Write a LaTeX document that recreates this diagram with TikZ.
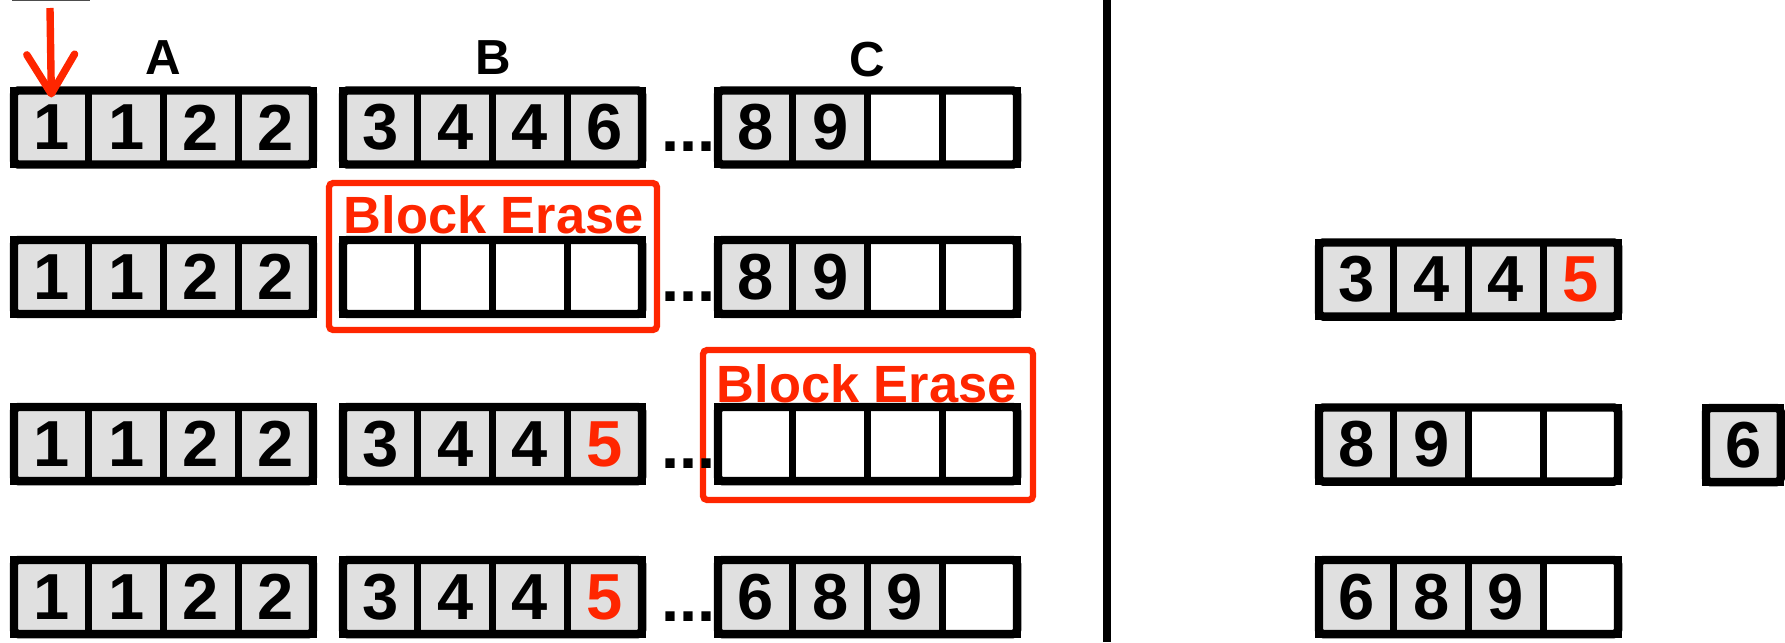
\documentclass[tikz,border=0pt]{standalone}
\usepackage{fontspec}
\setmainfont{Liberation Sans}
\usetikzlibrary{arrows.meta}
\definecolor{eras}{RGB}{255,38,0}
\definecolor{cellgray}{RGB}{224,224,224}
\newcommand\digitfont{\fontsize{18.5}{20}\selectfont\bfseries}
\newcommand\lblfont{\fontsize{14}{16}\selectfont\bfseries}
\newcommand\erasefont{\fontsize{14.9}{16}\selectfont\bfseries}
% #1 name, #2 left (stroke centre), #3 centre y, #4 cell list, #5 number of cells
\newcommand\memblock[5]{%
  \foreach \cv/\cf [count=\ci] in {#4}{%
    \node[cellbox, fill=\cf] (#1-\ci) at ({#2+\ci*74.75-37.375}, #3) {\cv};
  }%
  \draw[outerbox] (#1-1.north west) rectangle (#1-#5.south east);
}
\begin{document}
\begin{tikzpicture}[x=0.01cm,y=-0.01cm,
  cellbox/.style={draw=black, line width=2pt, minimum width=0.7475cm, minimum height=0.74cm, inner sep=0pt, outer sep=0pt, font=\digitfont},
  outerbox/.style={draw=black, line width=2.4pt, rounded corners=1.2pt},
  erasebox/.style={draw=eras, line width=1.8pt, rounded corners=1.2pt},
  erasetext/.style={text=eras, font=\erasefont, anchor=base west, inner sep=0pt},
  lbl/.style={font=\lblfont, inner sep=0pt},
  dotstext/.style={font=\digitfont, anchor=base west, inner sep=0pt},
  arrowred/.style={draw=eras, line width=2.1pt, -{Straight Barb[length=7pt,width=8.5pt,round,scale=1.6]}}]
\useasboundingbox (0,0) rectangle (1785,642);

% remnant line at top
\draw[gray!60!black, line width=0.5pt] (12,0.6) -- (90,0.6);

% labels
\node[lbl] (la) at (163,58) {A};
\node[lbl] (lb) at (493,58) {B};
\node[lbl] (lc) at (867,60) {C};

% erase boxes
\draw[erasebox] (329,183) rectangle (657,330);
\draw[erasebox] (703,350) rectangle (1033,500);

% row 1
\memblock{r1a}{14}{127.5}{1/cellgray,1/cellgray,2/cellgray,2/cellgray}{4}
\memblock{r1b}{343}{127.5}{3/cellgray,4/cellgray,4/cellgray,6/cellgray}{4}
\memblock{r1c}{718}{127.5}{8/cellgray,9/cellgray,/white,/white}{4}
\node[dotstext] (d1) at (661,151.5) {...};

% row 2
\memblock{r2a}{14}{277}{1/cellgray,1/cellgray,2/cellgray,2/cellgray}{4}
\memblock{r2b}{343}{277}{/white,/white,/white,/white}{4}
\memblock{r2c}{718}{277}{8/cellgray,9/cellgray,/white,/white}{4}
\node[dotstext] (d2) at (661,301) {...};

% row 3
\memblock{r3a}{14}{444}{1/cellgray,1/cellgray,2/cellgray,2/cellgray}{4}
\memblock{r3b}{343}{444}{3/cellgray,4/cellgray,4/cellgray,\textcolor{eras}{5}/cellgray}{4}
\memblock{r3c}{718}{444}{/white,/white,/white,/white}{4}
\node[dotstext] (d3) at (661,468) {...};

% row 4
\memblock{r4a}{14}{597}{1/cellgray,1/cellgray,2/cellgray,2/cellgray}{4}
\memblock{r4b}{343}{597}{3/cellgray,4/cellgray,4/cellgray,\textcolor{eras}{5}/cellgray}{4}
\memblock{r4c}{718}{597}{6/cellgray,8/cellgray,9/cellgray,/white}{4}
\node[dotstext] (d4) at (661,621) {...};

% erase labels
\node[erasetext] (be1) at (343,233) {Block Erase};
\node[erasetext] (be2) at (716,402) {Block Erase};

% separator
\draw[line width=2.3pt] (1107,0) -- (1107,642);

% right side
\memblock{s1}{1319}{279.5}{3/cellgray,4/cellgray,4/cellgray,\textcolor{eras}{5}/cellgray}{4}
\memblock{s2}{1319}{444.5}{8/cellgray,9/cellgray,/white,/white}{4}
\memblock{s3}{1319}{597}{6/cellgray,8/cellgray,9/cellgray,/white}{4}
\memblock{s4}{1706}{445}{6/cellgray}{1}

% pointer arrow
\coordinate (arrtop) at (50,8);
\draw[arrowred] (arrtop) -- ([yshift=-2pt]r1a-1.north);
\end{tikzpicture}
\end{document}
